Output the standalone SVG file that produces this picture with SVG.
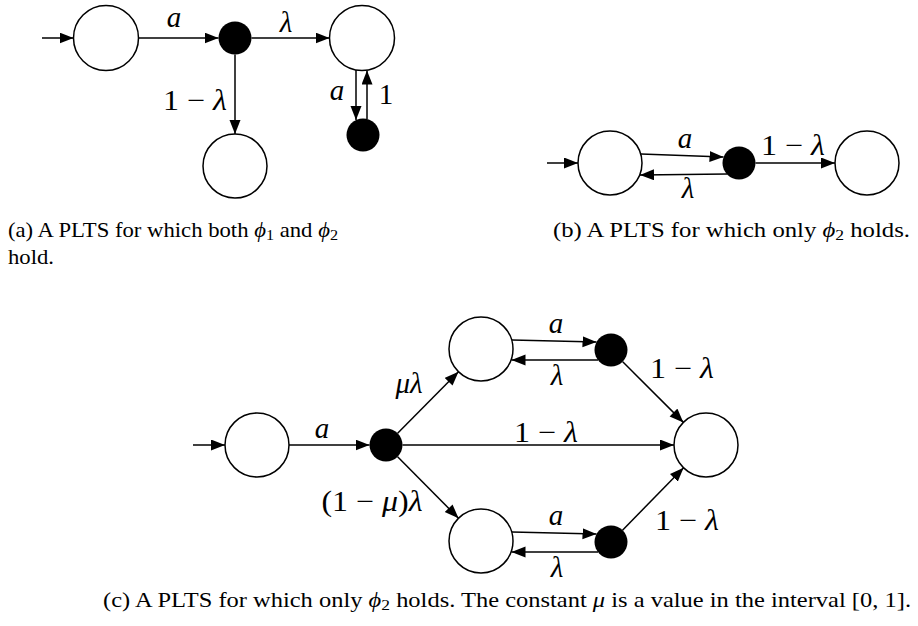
<svg xmlns="http://www.w3.org/2000/svg" width="918" height="626" viewBox="0 0 918 626">
<style>
.st{fill:#fff;stroke:#000;stroke-width:1.5}
.pr{fill:#000;stroke:none}
.e{stroke:#000;stroke-width:1.5;fill:none;marker-end:url(#ah)}
.lb{font-family:"Liberation Serif","DejaVu Serif",serif;font-size:29px;fill:#000;text-anchor:middle}
.it{font-style:italic}
.cap{font-family:"Liberation Serif","DejaVu Serif",serif;font-size:21px;fill:#000}
</style>
<defs>
<marker id="ah" markerUnits="userSpaceOnUse" markerWidth="16" markerHeight="12" refX="14" refY="5.5" orient="auto" viewBox="0 0 16 12">
<path d="M0,0 L14,5.5 L0,11 z" fill="#000"/>
</marker>
</defs>
<rect width="918" height="626" fill="#fff"/>

<!-- (a) -->
<g id="a_s0"><circle class="st" cx="106" cy="38" r="32.5"/></g>
<g id="a_p0"><circle class="pr" cx="235" cy="38" r="16.5"/></g>
<g id="a_s1"><circle class="st" cx="362" cy="38" r="32.5"/></g>
<g id="a_s2"><circle class="st" cx="235" cy="166" r="32"/></g>
<g id="a_p1"><circle class="pr" cx="363" cy="135" r="16.5"/></g>

<!-- (b) -->
<g id="b_s0"><circle class="st" cx="610" cy="163" r="32"/></g>
<g id="b_p0"><circle class="pr" cx="739" cy="163" r="16.5"/></g>
<g id="b_s1"><circle class="st" cx="867" cy="163" r="32"/></g>

<!-- (c) -->
<g id="c_s0"><circle class="st" cx="257" cy="445" r="32"/></g>
<g id="c_p0"><circle class="pr" cx="386" cy="445" r="16.5"/></g>
<g id="c_s1"><circle class="st" cx="481" cy="349" r="32"/></g>
<g id="c_p1"><circle class="pr" cx="611" cy="350" r="16.5"/></g>
<g id="c_s2"><circle class="st" cx="481" cy="541" r="32"/></g>
<g id="c_p2"><circle class="pr" cx="611" cy="542" r="16.5"/></g>
<g id="c_s3"><circle class="st" cx="706" cy="445" r="32"/></g>

<g id="connectors">
<!-- (a) -->
<line class="e" x1="42" y1="38" x2="73.5" y2="38"/>
<line class="e" x1="138.5" y1="38" x2="218.5" y2="38"/>
<line class="e" x1="251.5" y1="38" x2="329.5" y2="38"/>
<line class="e" x1="235" y1="54.5" x2="235" y2="134"/>
<line class="e" x1="356" y1="70" x2="356" y2="120"/>
<line class="e" x1="367" y1="119" x2="367" y2="70.5"/>
<!-- (b) -->
<line class="e" x1="547" y1="163" x2="578" y2="163"/>
<line class="e" x1="641" y1="154" x2="723.5" y2="157"/>
<line class="e" x1="727" y1="174" x2="640" y2="175"/>
<line class="e" x1="755.5" y1="163" x2="835" y2="163"/>
<!-- (c) -->
<line class="e" x1="193" y1="445" x2="225" y2="445"/>
<line class="e" x1="289" y1="445" x2="369.5" y2="445"/>
<line class="e" x1="402.5" y1="445" x2="674" y2="445"/>
<line class="e" x1="397.6" y1="433.3" x2="458.5" y2="371.8"/>
<line class="e" x1="397.6" y1="456.7" x2="458.5" y2="518.2"/>
<line class="e" x1="512" y1="340" x2="596.5" y2="342"/>
<line class="e" x1="598" y1="360" x2="511.5" y2="360"/>
<line class="e" x1="622.7" y1="361.7" x2="683.4" y2="422.4"/>
<line class="e" x1="512" y1="532" x2="596.5" y2="534"/>
<line class="e" x1="598" y1="552" x2="511.5" y2="552"/>
<line class="e" x1="622.5" y1="530.2" x2="683.6" y2="467.8"/>
</g>

<g id="labels">
<text class="lb it" x="174" y="27">a</text>
<text class="lb it" x="286" y="32">λ</text>
<text class="lb" x="195" y="110" textLength="64" lengthAdjust="spacingAndGlyphs">1 − <tspan class="it">λ</tspan></text>
<text class="lb it" x="337" y="100">a</text>
<text class="lb" x="386" y="104">1</text>

<text class="lb it" x="685" y="148">a</text>
<text class="lb it" x="688" y="198">λ</text>
<text class="lb" x="793" y="155" textLength="64" lengthAdjust="spacingAndGlyphs">1 − <tspan class="it">λ</tspan></text>

<text class="lb it" x="322" y="438">a</text>
<text class="lb it" x="409" y="393">μλ</text>
<text class="lb" x="372" y="511" textLength="101" lengthAdjust="spacingAndGlyphs">(1 − <tspan class="it">μ</tspan>)<tspan class="it">λ</tspan></text>
<text class="lb it" x="556" y="333">a</text>
<text class="lb it" x="557" y="385">λ</text>
<text class="lb" x="682" y="378" textLength="64" lengthAdjust="spacingAndGlyphs">1 − <tspan class="it">λ</tspan></text>
<text class="lb" x="546" y="442" textLength="64" lengthAdjust="spacingAndGlyphs">1 − <tspan class="it">λ</tspan></text>
<text class="lb it" x="556" y="525">a</text>
<text class="lb it" x="557" y="577">λ</text>
<text class="lb" x="687" y="530" textLength="64" lengthAdjust="spacingAndGlyphs">1 − <tspan class="it">λ</tspan></text>
</g>

<g id="captions">
<text class="cap" x="8" y="237" textLength="330" lengthAdjust="spacingAndGlyphs">(a) A PLTS for which both <tspan class="it">ϕ</tspan><tspan font-size="15" dy="3">1</tspan><tspan dy="-3"> and </tspan><tspan class="it">ϕ</tspan><tspan font-size="15" dy="3">2</tspan></text>
<text class="cap" x="8" y="264" textLength="46" lengthAdjust="spacingAndGlyphs">hold.</text>
<text class="cap" x="553" y="237" textLength="357" lengthAdjust="spacingAndGlyphs">(b) A PLTS for which only <tspan class="it">ϕ</tspan><tspan font-size="15" dy="3">2</tspan><tspan dy="-3"> holds.</tspan></text>
<text class="cap" x="103" y="607" textLength="808" lengthAdjust="spacingAndGlyphs">(c) A PLTS for which only <tspan class="it">ϕ</tspan><tspan font-size="15" dy="3">2</tspan><tspan dy="-3"> holds. The constant </tspan><tspan class="it">μ</tspan> is a value in the interval [0, 1].</text>
</g>
</svg>
